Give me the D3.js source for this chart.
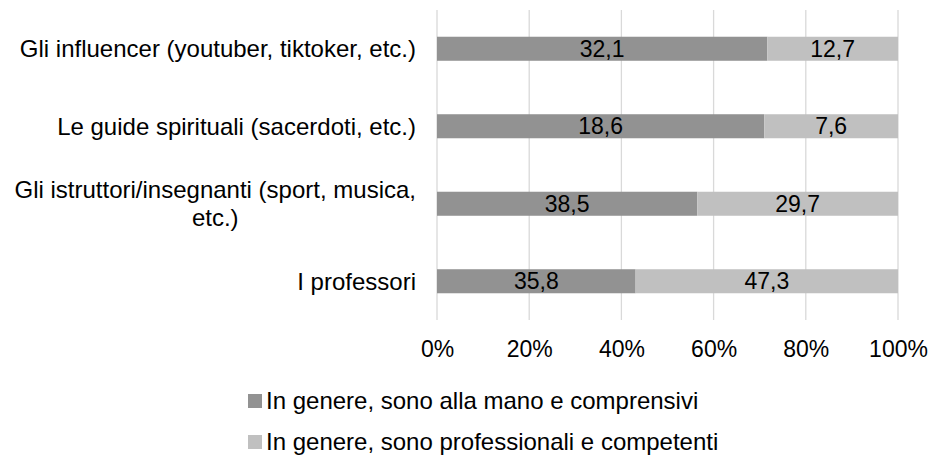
<!DOCTYPE html>
<html>
<head>
<meta charset="utf-8">
<script src="https://cdn.jsdelivr.net/npm/d3@7"></script>
<style>
  body { margin: 0; background: #fff; }
  text { font-family: "Liberation Sans", Arial, sans-serif; fill: #000; }
</style>
</head>
<body>
<div id="chart"></div>
<script>
// data
var categories = [
    "Gli influencer (youtuber, tiktoker, etc.)",
    "Le guide spirituali (sacerdoti, etc.)",
    "Gli istruttori/insegnanti (sport, musica, etc.)",
    "I professori"
];
var seriesNames = [
    "In genere, sono alla mano e comprensivi",
    "In genere, sono professionali e competenti"
];
var alaMano = [32.1, 18.6, 38.5, 35.8];
var professionali = [12.7, 7.6, 29.7, 47.3];
var tickLabels = ["0%", "20%", "40%", "60%", "80%", "100%"];
var colors = ["#929292", "#c0c0c0"];

var W = 934, H = 460;
var margin = {top: 10, right: 36, bottom: 140, left: 437},
    width = W - margin.left - margin.right,
    height = H - margin.top - margin.bottom;

var svg = d3.select("#chart").append("svg")
    .attr("width", W)
    .attr("height", H);

var g = svg.append("g")
    .attr("transform", "translate(" + margin.left + "," + margin.top + ")");

var x = d3.scaleLinear().domain([0, 1]).range([0, width]);
var y = d3.scaleBand().domain(categories).range([0, height]).paddingInner(0.69).paddingOuter(0.345);

//gridlines
g.selectAll(".grid")
    .data(x.ticks(5))
    .enter().append("line")
    .attr("x1", function(d) { return x(d); })
    .attr("x2", function(d) { return x(d); })
    .attr("y1", 0)
    .attr("y2", height)
    .attr("stroke", "#d9d9d9")
    .attr("stroke-width", 1.3);

//x axis
var xAxis = d3.axisBottom(x).ticks(5).tickSize(0).tickPadding(21)
    .tickFormat(function(d, i) { return tickLabels[i]; });
var ax = g.append("g").attr("transform", "translate(0," + height + ")").call(xAxis);
ax.select(".domain").remove();
ax.selectAll("text").style("font-size", "23px").attr("font-family", null);

//stacked rows
var rows = categories.map(function(c, i) {
    var tot = alaMano[i] + professionali[i];
    return {cat: c, vals: [alaMano[i], professionali[i]], tot: tot};
});

rows.forEach(function(r) {
    var start = 0;
    r.vals.forEach(function(v, j) {
        var x0 = x(start / r.tot), x1 = x((start + v) / r.tot);
        g.append("rect")
            .attr("x", x0)
            .attr("y", y(r.cat))
            .attr("width", x1 - x0)
            .attr("height", y.bandwidth())
            .attr("fill", colors[j]);
        g.append("text")
            .attr("x", (x0 + x1) / 2)
            .attr("y", y(r.cat) + y.bandwidth() / 2)
            .attr("dy", "0.35em")
            .attr("text-anchor", "middle")
            .style("font-size", "23px")
            .text(d3.format(".1f")(v).replace(".", ","));
        start += v;
    });
});

//category labels, wrapped and centred in a right-aligned block
var labelRight = -21, maxW = 405, fs = "24px";
categories.forEach(function(c) {
    var t = g.append("text").style("font-size", fs).attr("text-anchor", "middle");
    var words = c.split(" "), lines = [], cur = "";
    var probe = g.append("text").style("font-size", fs);
    words.forEach(function(w) {
        var test = cur ? cur + " " + w : w;
        probe.text(test);
        if (probe.node().getComputedTextLength() > maxW && cur) {
            lines.push(cur);
            cur = w;
        } else cur = test;
    });
    lines.push(cur);
    var widths = lines.map(function(l) { probe.text(l); return probe.node().getComputedTextLength(); });
    probe.remove();
    var blockW = d3.max(widths);
    var cx = labelRight - blockW / 2;
    var lh = 28;
    var cy = y(c) + y.bandwidth() / 2 - (lines.length - 1) * lh / 2;
    lines.forEach(function(l, k) {
        t.append("tspan")
            .attr("x", cx)
            .attr("y", cy + k * lh)
            .attr("dy", "0.35em")
            .text(l);
    });
});

//legend
var legend = svg.append("g").attr("transform", "translate(248,394)");
seriesNames.forEach(function(s, i) {
    var row = legend.append("g").attr("transform", "translate(0," + (i * 41) + ")");
    row.append("rect").attr("width", 14).attr("height", 14).attr("fill", colors[i]);
    row.append("text")
        .attr("x", 18)
        .attr("y", 7)
        .attr("dy", "0.35em")
        .style("font-size", "24px")
        .text(s);
});
</script>
</body>
</html>
